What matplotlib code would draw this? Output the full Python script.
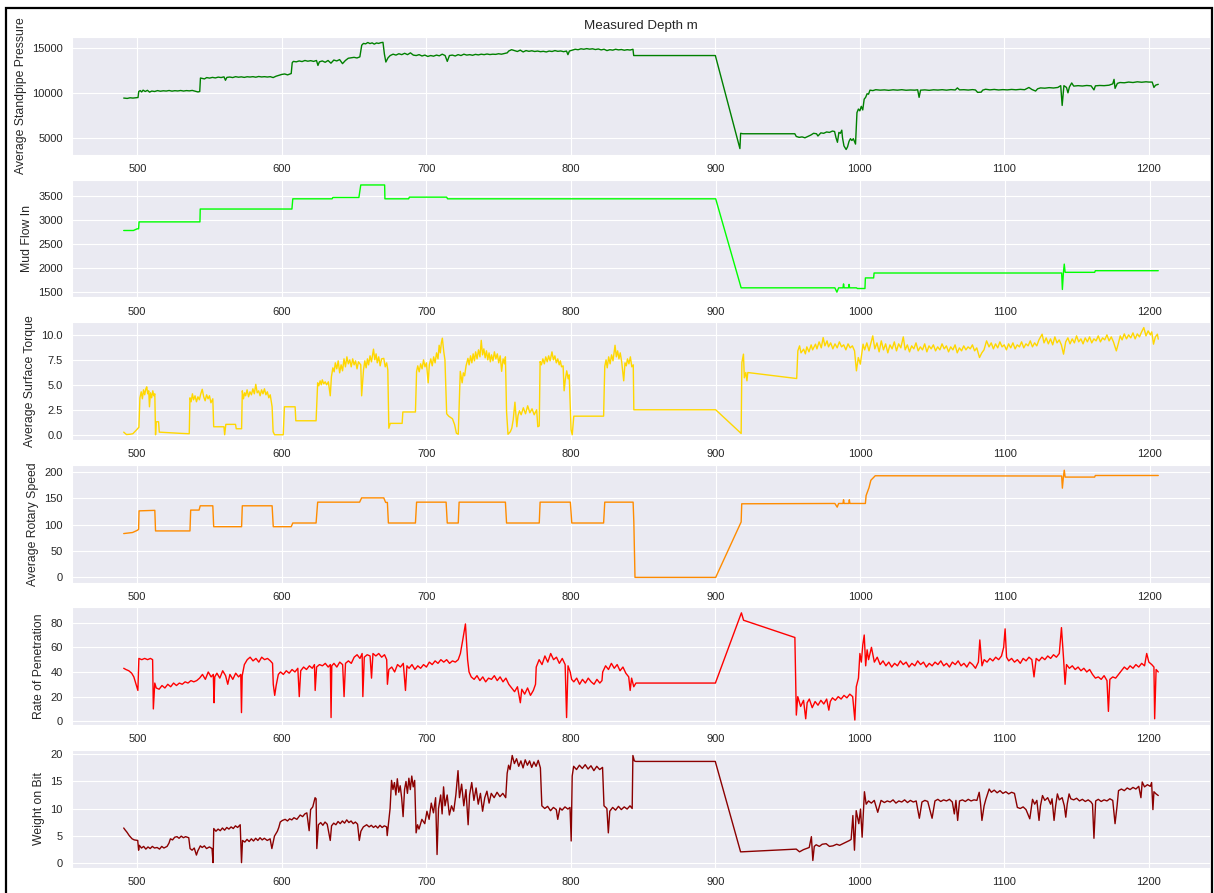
import matplotlib
matplotlib.use("Agg")
import matplotlib.pyplot as plt
import seaborn as sns
from matplotlib.patches import Rectangle

# (measured depth m, value) pairs
spp_pts = [
    (490.6, 9420), (493, 9380), (495, 9450), (497, 9420), (500.5, 9480),
    (501, 10150), (502, 10250), (503, 10100), (504, 10300), (505.5, 10150), (507, 10280), (508.5, 10080),
    (510, 10200), (512, 10150), (514, 10250), (516, 10180), (518, 10230), (520, 10200), (522, 10260),
    (524, 10190), (526, 10240), (528, 10210), (530, 10260), (532, 10200), (534, 10250), (536, 10220),
    (538, 10270), (540, 10180), (542, 10100), (543.2, 10150),
    (543.7, 11650), (545, 11600), (546.5, 11550), (548, 11700), (550, 11640), (552, 11720), (554, 11660),
    (556, 11750), (558, 11700), (560, 11780), (561, 11400), (562, 11720), (564, 11760), (566, 11700),
    (568, 11800), (570, 11740), (572, 11780), (574, 11720), (576, 11790), (578, 11760), (580, 11800),
    (582, 11740), (584, 11820), (586, 11770), (588, 11800), (590, 11760), (592, 11800), (594, 11700),
    (596, 11850), (598, 11950), (600, 12050), (602, 12100), (604, 12000), (606.5, 12150),
    (607.2, 13350), (608, 13500), (610, 13450), (612, 13550), (614, 13480), (616, 13600), (618, 13520),
    (620, 13580), (622, 13500), (624, 13600), (625, 13050), (626, 13450), (628, 13550), (630, 13400),
    (632, 13600), (634, 13300), (636, 13650), (638, 13550), (640, 13700), (642, 13250), (644, 13600),
    (646, 13850), (648, 13900), (650, 13950), (652, 13880), (654, 14000),
    (655.3, 15300), (656.5, 15500), (658, 15450), (659.5, 15600), (661, 15480), (662.5, 15560),
    (664, 15420), (665.5, 15550), (667, 15500), (668.5, 15580), (670, 15620),
    (671, 14300), (672, 13430), (673.5, 13900), (675, 14150), (677, 14300), (679, 14200), (681, 14350),
    (683, 14250), (685, 14400), (687, 14250), (689, 14450), (691, 14200), (693, 14150), (695, 14250),
    (697, 14100), (699, 14200), (701, 14050), (703, 14150), (705, 14080), (707, 14200), (709, 14120),
    (711, 14300), (713, 14150), (714.5, 13500), (716, 14150), (718, 14200), (720, 14100), (722, 14250),
    (724, 14150), (726, 14300), (728, 14200), (730, 14250), (732, 14180), (734, 14280), (736, 14220),
    (738, 14300), (740, 14250), (742, 14320), (744, 14260), (746, 14300), (748, 14280), (750, 14350),
    (752, 14300), (754, 14380), (756, 14450),
    (757, 14650), (759, 14800), (761, 14700), (763, 14600), (765, 14750), (767, 14550), (769, 14700),
    (771, 14620), (773, 14680), (775, 14600), (777, 14650), (779, 14580), (781, 14620), (783, 14550),
    (785, 14650), (787, 14600), (789, 14700), (791, 14620), (793, 14660), (795, 14580), (797, 14650),
    (798, 14250), (799, 14650), (801, 14750), (803, 14850), (805, 14800), (807, 14900), (809, 14850),
    (811, 14920), (813, 14860), (815, 14900), (817, 14820), (819, 14880), (821, 14780), (823, 14850),
    (825, 14700), (827, 14800), (829, 14750), (831, 14850), (833, 14780), (835, 14820), (837, 14740),
    (839, 14800), (841, 14760), (843, 14850),
    (843.5, 14150), (900, 14150), (917, 3800), (917.5, 5500), (919, 5450), (955, 5450),
    (956, 5150), (958, 5050), (960, 5100), (962, 5000), (964, 5150), (966, 5300), (968, 5500),
    (970, 5450), (971, 5200), (973, 5550), (975, 5500), (977, 5650), (979, 5600), (981, 5750),
    (982.5, 5700), (983.5, 5000), (984.5, 4500), (985.5, 5600), (986.5, 5500), (987.5, 5850),
    (988, 5000), (989, 4100), (990.5, 3700), (991.5, 4000), (992.5, 4600), (993.5, 4900), (994.5, 4700),
    (995.5, 4900), (996.5, 4500), (997, 4300),
    (998, 7800), (999, 8200), (1000, 8000), (1001, 8500), (1002, 8100), (1003, 9300), (1004, 9500),
    (1005, 9900), (1006, 9850), (1007, 10300), (1009, 10250), (1011, 10350), (1014, 10300),
    (1017, 10330), (1020, 10280), (1023, 10340), (1026, 10300), (1029, 10350), (1032, 10290),
    (1035, 10320), (1038, 10300), (1040, 10340), (1041, 9500), (1042, 10300), (1045, 10330),
    (1048, 10280), (1051, 10340), (1054, 10310), (1057, 10350), (1060, 10300), (1063, 10360),
    (1066, 10320), (1067.5, 10550), (1069, 10330), (1072, 10350), (1075, 10310), (1078, 10360),
    (1080, 10320), (1081.5, 10050), (1084, 10080), (1085, 10300), (1087, 10400), (1090, 10330),
    (1093, 10380), (1096, 10320), (1099, 10360), (1102, 10330), (1105, 10380), (1108, 10340),
    (1111, 10390), (1114, 10350), (1117, 10600), (1119, 10380), (1121.6, 10200), (1123, 10450),
    (1125, 10550), (1128, 10520), (1131, 10580), (1134, 10540), (1137, 10600), (1139, 10800),
    (1140, 8600), (1141.2, 10800), (1143, 10600), (1144, 10000), (1145, 10650), (1146.6, 11100),
    (1148, 10750), (1151, 10800), (1154, 10760), (1157, 10820), (1160, 10780), (1162, 10330),
    (1163, 10780), (1166, 10820), (1169, 10800), (1172.4, 10850), (1175, 11000), (1175.9, 11500),
    (1176.6, 10500), (1178.2, 11050), (1180, 11150), (1183, 11120), (1186, 11200), (1189, 11150),
    (1192, 11230), (1195, 11180), (1198, 11230), (1200, 11200), (1202.3, 11200), (1203.5, 10600),
    (1204.6, 10850), (1206.5, 10950),
]

flow_pts = [
    (490.7, 2780), (497.4, 2780), (500, 2815), (501, 2815), (501.3, 2959), (543.4, 2959),
    (543.6, 3226), (607, 3226), (607.6, 3438), (634.8, 3438), (635.3, 3466), (653.3, 3466),
    (654.6, 3726), (671.1, 3726), (671.3, 3438), (687.7, 3438), (688.2, 3473), (714, 3473),
    (714.6, 3438), (900, 3438), (917.6, 1589), (982.4, 1589), (983.8, 1500), (985, 1589),
    (988, 1589), (988.4, 1671), (988.8, 1589), (991.8, 1589), (992.2, 1660), (992.6, 1589),
    (997.3, 1589), (998, 1575), (1003.2, 1575), (1003.5, 1795), (1009.2, 1795), (1009.5, 1897),
    (1139.2, 1897), (1139.7, 1555), (1140.4, 1900), (1141, 2082), (1141.6, 1911), (1162, 1911),
    (1162.5, 1945), (1206, 1945),
]

torque_pts = [
    (490.7, 0.26), (492.6, 0.02), (495, 0.05), (497, 0.1), (499, 0.4), (501.2, 0.75),
    (501.9, 3.7), (502.8, 4.3), (503.6, 3.6), (504.4, 4.5), (505.2, 4.0), (506, 4.6), (506.6, 4.8),
    (507.3, 4.1), (508, 4.4), (508.5, 2.8), (509.2, 4.2), (510, 3.7), (510.8, 4.4), (511.5, 3.9), (512.2, 4.1),
    (512.7, 0.0), (513.2, 1.3), (514.8, 1.3), (515.3, 0.26), (520, 0.22), (525, 0.18), (530, 0.14), (536, 0.1),
    (536.5, 3.7), (537.3, 3.3), (538.2, 4.1), (539, 3.5), (540, 3.9), (541, 3.3), (542, 3.8), (543, 3.5),
    (544, 4.1), (545, 4.55), (546, 3.8), (547, 3.4), (548, 4.0), (549, 3.6), (550, 3.9), (551, 3.2), (552.3, 3.6),
    (552.9, 0.8), (560, 0.8), (560.5, 0.0), (561.3, 1.04), (568, 1.04), (568.5, 0.6), (572.2, 0.6),
    (572.7, 4.4), (573.5, 3.6), (574.3, 4.2), (575, 3.9), (576, 4.5), (577, 3.8), (578, 4.3), (579, 4.0),
    (580, 4.6), (581, 4.1), (582, 5.05), (583, 4.2), (584, 4.4), (585, 3.9), (586, 4.5), (587, 4.1),
    (588, 4.6), (589, 4.0), (590, 4.3), (591, 3.7), (592, 4.0), (593.3, 2.8), (594, 0.3), (595, 0.0), (601, 0.0),
    (601.8, 2.8), (609.2, 2.8), (609.7, 1.4), (623.7, 1.4),
    (624.8, 5.2), (625.6, 4.9), (626.5, 5.4), (627.3, 5.0), (628, 5.5), (629, 5.1), (630, 5.3), (631, 5.0),
    (632.2, 5.3), (633.5, 3.9), (634.3, 5.8), (635.3, 6.7), (636.2, 6.3), (637, 7.2), (638, 6.6), (639, 7.4),
    (640, 6.2), (641, 7.0), (642, 6.4), (643, 7.6), (644, 6.8), (645, 7.8), (646, 7.1), (647, 7.5), (648, 6.8),
    (649, 7.6), (650, 7.0), (651, 7.4), (652, 6.6), (653, 7.3), (654.6, 7.0),
    (655.2, 3.9), (656.5, 6.5), (657.4, 7.4), (658.3, 6.7), (659.2, 7.6), (660, 7.0), (661, 7.9), (662, 7.3),
    (663.4, 8.57), (664.3, 7.5), (665.2, 8.1), (666, 7.2), (667, 7.8), (668, 6.9), (669, 7.6), (670.5, 7.65),
    (671.5, 6.8), (672.5, 7.2), (673.3, 6.5),
    (674, 0.65), (675, 1.14), (683.2, 1.14), (683.7, 2.28), (692.4, 2.28),
    (693.2, 6.35), (694, 6.9), (695, 6.3), (696, 7.1), (697, 6.6), (698, 7.5), (699, 6.8), (700, 7.2),
    (701.2, 5.2), (702, 7.0), (703, 7.6), (704, 6.9), (705, 7.8), (706, 7.2), (707, 8.2), (708, 7.6),
    (708.8, 8.96), (709.6, 8.2), (710.3, 9.2), (711, 9.67), (712, 8.3), (712.8, 7.5), (714, 2.1),
    (715.4, 1.86), (718, 1.6), (719.5, 1.0), (720.7, 0.16), (722, 0.05),
    (723.4, 6.35), (724.7, 5.2), (725.5, 6.2), (726.4, 5.9), (727.4, 6.9), (728.7, 7.65), (729.5, 7.0),
    (730.5, 7.9), (731.4, 7.2), (732.3, 8.1), (733.2, 7.4), (734, 8.3), (735, 7.6), (736, 8.5), (737, 7.8),
    (737.9, 9.45), (738.8, 8.0), (739.7, 8.6), (740.6, 7.7), (741.5, 8.4), (742.4, 7.5), (743.3, 8.2),
    (744.2, 7.3), (745, 8.0), (746, 7.4), (747, 8.3), (748, 7.6), (749, 8.1), (750, 7.2), (751, 7.9),
    (752, 6.35), (753, 7.6), (754, 7.1), (754.6, 7.8),
    (755.4, 2.3), (756.4, 0.05), (758, 0.3), (759, 0.65), (760, 1.5), (761.2, 3.26), (762.5, 0.8),
    (763.3, 1.9), (764.3, 2.4), (765.5, 2.0), (767, 2.7), (768.5, 2.1), (770, 2.9), (771.5, 2.2),
    (773, 2.6), (774.5, 2.0), (776.2, 2.5), (777, 0.8), (778, 0.88),
    (778.6, 7.33), (779.5, 7.0), (780.5, 7.6), (781.5, 7.1), (782.5, 7.8), (783.5, 7.3), (784.5, 7.9),
    (785.5, 7.4), (786.8, 8.3), (787.8, 7.5), (788.8, 7.9), (789.8, 7.2), (790.8, 7.6), (791.8, 7.0),
    (792.6, 7.4), (793.4, 6.8), (794.5, 6.9), (795.2, 4.4), (796, 5.5), (797, 6.4), (798, 5.6),
    (798.7, 6.0), (800, 0.5), (800.8, 0.0),
    (801.9, 1.86), (822.5, 1.86),
    (823.3, 6.84), (824.2, 7.5), (825, 6.7), (826, 7.8), (827, 7.1), (828, 8.0), (829, 7.4), (830.4, 8.96),
    (831.3, 7.8), (832.2, 8.4), (833.1, 7.6), (834, 8.2), (835, 7.3), (836.4, 5.4), (837.3, 7.2),
    (838.2, 6.9), (839, 7.6), (840, 7.1), (841, 7.8), (842, 6.8), (843, 7.0),
    (843.4, 2.5), (900, 2.5), (917.6, 0.13),
    (918.1, 7.23), (919.2, 8.07), (919.8, 5.7), (920.8, 6.23), (921.6, 5.4), (922.2, 6.23), (956, 5.63),
    (956.8, 8.4), (958, 8.9), (959, 8.2), (960.8, 8.57), (962, 8.1), (963, 8.8), (964.5, 8.3), (966, 9.0),
    (967, 8.5), (969, 9.07), (970, 8.6), (971.5, 9.3), (973, 8.7), (974.3, 9.73), (975.5, 8.9), (977, 9.4),
    (978, 8.8), (979.5, 9.2), (981, 8.6), (982.5, 9.1), (984, 8.7), (985.5, 9.3), (987, 8.8), (988.5, 9.0),
    (990, 8.5), (991.5, 9.1), (993, 8.7), (994.5, 8.9), (996, 8.4), (997.3, 6.4), (998.6, 7.73),
    (1000, 7.07), (1001.9, 9.07), (1003, 8.5), (1004.5, 9.2), (1006, 8.4), (1007, 9.0), (1008.6, 9.9),
    (1010, 8.6), (1011.5, 9.2), (1013, 8.3), (1014.5, 9.4), (1016, 8.5), (1017.5, 9.1), (1019, 8.2),
    (1020.5, 9.0), (1022, 8.6), (1023.5, 9.3), (1025, 8.4), (1026.5, 9.1), (1028, 8.7), (1029.7, 9.8),
    (1031, 8.5), (1032.5, 9.0), (1034, 8.3), (1035.5, 8.9), (1037, 8.6), (1038.5, 9.2), (1040, 8.4),
    (1041.5, 8.8), (1043, 8.5), (1044.5, 9.1), (1046, 8.3), (1047.5, 8.9), (1049, 8.6), (1050.5, 9.0),
    (1052, 8.4), (1053.5, 8.8), (1055, 8.5), (1056.5, 9.1), (1058, 8.6), (1059.5, 8.9), (1061, 8.3),
    (1062.5, 8.8), (1064, 8.5), (1065.5, 9.0), (1067, 8.2), (1068.5, 8.7), (1070, 8.4), (1071.5, 8.9),
    (1073, 8.5), (1074.5, 8.8), (1076, 8.6), (1077.5, 9.0), (1079, 8.4), (1080.5, 8.7), (1082.4, 7.73),
    (1084, 8.2), (1085.5, 8.5), (1087.3, 9.4), (1089, 8.8), (1090.5, 9.2), (1092, 8.6), (1093.5, 9.1),
    (1095, 8.7), (1096.5, 9.3), (1098, 8.8), (1099.5, 9.0), (1101, 8.5), (1102.5, 9.1), (1104, 8.7),
    (1105.5, 9.2), (1107, 8.6), (1108.5, 9.0), (1110, 8.8), (1111.5, 9.3), (1113, 8.7), (1114.5, 9.1),
    (1116, 8.9), (1117.5, 9.4), (1119, 8.8), (1120.5, 9.2), (1122, 8.9), (1123.5, 9.5), (1125.7, 10.07),
    (1127, 9.2), (1128.5, 9.7), (1130, 9.1), (1131.5, 9.6), (1133, 9.0), (1134.5, 9.8), (1136, 9.2),
    (1137.5, 9.5), (1139, 9.0), (1140.5, 8.07), (1142, 9.3), (1143.5, 9.7), (1145, 9.1), (1146.5, 9.6),
    (1148, 9.2), (1149.5, 9.9), (1151, 9.3), (1152.5, 9.6), (1154, 9.1), (1155.5, 9.7), (1157, 9.3),
    (1158.5, 9.8), (1160, 9.2), (1161.5, 9.6), (1163, 9.4), (1164.5, 9.9), (1166, 9.3), (1167.5, 9.7),
    (1169, 9.5), (1170.5, 10.0), (1172, 9.4), (1173.5, 9.8), (1175, 9.3), (1177, 8.4), (1178.5, 9.2),
    (1179.7, 9.9), (1181, 9.5), (1182.5, 10.1), (1184, 9.6), (1185.5, 10.0), (1187, 9.7), (1188.5, 10.2),
    (1190, 9.6), (1191.5, 10.1), (1193, 9.8), (1194.5, 10.3), (1196, 10.73), (1197.5, 9.9), (1199, 10.4),
    (1200.5, 10.0), (1201.5, 10.3), (1202.7, 9.07), (1204, 9.8), (1205.4, 10.07), (1206, 9.57),
]

rpm_pts = [
    (490.7, 83), (496.8, 85), (500, 89), (501, 91), (501.3, 126), (512.2, 127),
    (512.7, 88), (536.5, 88), (537, 127.5), (542.8, 127.5), (543.6, 135.6), (552.3, 135.6),
    (552.9, 96), (572.2, 96), (572.7, 135.6), (593.3, 135.6), (594.1, 96), (606.5, 96),
    (607.6, 103), (623.7, 103), (624.8, 142.5), (653.8, 142.5), (655.2, 150.6), (670.5, 150.6),
    (671.8, 142), (673, 142), (673.7, 103), (692.4, 103), (693.2, 142.5), (713.6, 142.5),
    (714.4, 103), (722, 103), (722.6, 142.5), (754.6, 142.5), (755.4, 103), (778, 103),
    (778.6, 142.5), (799.5, 142.5), (800.5, 103), (822.5, 103), (823.3, 142.5), (842.9, 142.5),
    (843.4, 105), (844.2, 0), (900, 0), (917.6, 105), (918, 139.4), (982.4, 140), (984, 133),
    (985, 140), (988, 140), (988.4, 147), (988.8, 140), (992, 140), (992.4, 147), (992.8, 140),
    (1003.5, 140), (1004, 155), (1006, 170), (1007.3, 184), (1010.3, 192.5), (1139.2, 192),
    (1139.7, 169), (1140.4, 190), (1141, 203), (1141.6, 190), (1162, 190), (1162.5, 193),
    (1206, 193),
]

rop_pts = [
    (490.5, 43), (492, 42), (494, 41), (496, 39), (497.5, 36), (499, 30), (500.3, 25),
    (501, 51), (503, 50), (505, 51), (507, 50), (509, 51), (510.5, 50), (511, 10), (512, 31), (513, 27),
    (515, 26), (517, 29), (519, 27), (521, 30), (523, 28), (525, 31), (527, 29), (529, 31), (531, 30),
    (533, 32), (535, 31), (537, 33), (539, 32), (541, 33), (543, 35), (545, 38), (547, 34), (549, 40),
    (551, 36), (552.5, 38), (553, 15), (553.5, 36), (555, 39), (557, 35), (559, 41), (561, 37),
    (562.5, 30), (564, 38), (566, 34), (568, 39), (570, 36), (571.5, 38), (572, 7), (572.5, 37),
    (574, 46), (576, 50), (578, 52), (580, 49), (582, 51), (584, 48), (586, 52), (588, 50), (590, 51),
    (592, 49), (593.5, 47), (594, 30), (595, 21), (596, 29), (597.5, 38), (599, 40), (601, 38),
    (603, 41), (605, 39), (607, 42), (609, 40), (611, 43), (612, 20), (613, 41), (615, 44), (617, 42),
    (619, 45), (621, 43), (622.5, 46), (623, 25), (624, 44), (626, 46), (628, 45), (630, 47), (632, 44),
    (633.5, 46), (634, 3), (634.5, 45), (636, 47), (638, 44), (640, 48), (642, 46), (643, 20), (644, 47),
    (646, 49), (648, 47), (650, 52), (652, 54), (654, 51), (655.5, 55), (656, 20), (657, 52), (659, 54),
    (661, 53), (662, 35), (663, 55), (665, 53), (667, 55), (669, 52), (671, 54), (672.5, 50), (673, 30),
    (674, 42), (676, 44), (678, 40), (680, 46), (682, 44), (684, 47), (685.5, 25), (686.5, 45),
    (688, 43), (690, 46), (692, 42), (694, 45), (696, 43), (698, 46), (700, 44), (702, 48), (704, 46),
    (706, 49), (708, 47), (710, 50), (712, 48), (714, 50), (716, 47), (718, 49), (720, 48), (722, 50),
    (723.5, 55), (725, 65), (727, 79), (728.5, 50), (729.5, 40), (731, 36), (733, 34), (735, 37),
    (737, 33), (739, 36), (741, 32), (743, 35), (745, 34), (747, 37), (749, 33), (751, 36), (753, 32),
    (755, 35), (757, 30), (759, 27), (761, 24), (763, 28), (765, 15), (766, 26), (768, 22), (770, 27),
    (772, 21), (774, 25), (775.5, 30), (776, 44), (778, 50), (780, 46), (782, 53), (784, 48), (786, 55),
    (788, 50), (790, 52), (792, 47), (794, 51), (796, 46), (797, 3), (798, 45), (799.5, 40),
    (800.5, 34), (802, 32), (804, 35), (806, 30), (808, 34), (810, 31), (812, 35), (814, 32), (816, 30),
    (818, 34), (820, 31), (821.5, 33), (822, 40), (824, 45), (826, 42), (828, 47), (830, 43), (832, 46),
    (834, 41), (836, 44), (838, 39), (840, 36), (841, 25), (842, 35), (843.5, 28), (845, 31), (900, 31),
    (918, 88), (919.5, 82), (955, 68), (956, 5), (957, 20), (959, 12), (961, 17), (962.5, 2),
    (963.5, 15), (965, 18), (967, 11), (969, 16), (971, 13), (973, 17), (975, 14), (977, 18),
    (978.5, 9), (979.5, 16), (981, 19), (983, 17), (985, 20), (987, 18), (989, 21), (991, 19),
    (993, 22), (995, 20), (996.5, 1), (997.5, 28), (999, 35), (1000, 55), (1001, 48), (1002, 62),
    (1003, 70), (1004, 45), (1005, 58), (1006, 50), (1008, 60), (1010, 48), (1012, 52), (1014, 46),
    (1016, 49), (1018, 45), (1020, 48), (1022, 44), (1024, 47), (1026, 45), (1028, 49), (1030, 46),
    (1032, 48), (1034, 44), (1036, 47), (1038, 45), (1040, 49), (1042, 46), (1044, 48), (1046, 44),
    (1048, 47), (1050, 45), (1052, 48), (1054, 46), (1056, 49), (1058, 45), (1060, 47), (1062, 44),
    (1064, 48), (1066, 46), (1068, 49), (1070, 45), (1072, 47), (1074, 44), (1076, 48), (1078, 46),
    (1080, 43), (1082, 48), (1083, 66), (1084.5, 45), (1086, 50), (1088, 48), (1090, 51), (1092, 49),
    (1094, 52), (1096, 50), (1098, 53), (1099.5, 60), (1100.5, 75), (1101.5, 52), (1103, 49),
    (1105, 51), (1107, 48), (1109, 50), (1111, 47), (1113, 51), (1115, 49), (1117, 52), (1119, 50),
    (1120.5, 36), (1122, 51), (1124, 49), (1126, 52), (1128, 50), (1130, 53), (1132, 51), (1134, 54),
    (1136, 52), (1138, 55), (1139.5, 76), (1141, 50), (1142, 30), (1143, 46), (1145, 43), (1147, 45),
    (1149, 42), (1151, 44), (1153, 41), (1155, 43), (1157, 40), (1159, 42), (1161, 38), (1163, 35),
    (1165, 36), (1167, 34), (1169, 37), (1171, 33), (1172, 8), (1173, 34), (1175, 36), (1177, 35),
    (1179, 38), (1181, 41), (1183, 44), (1185, 42), (1187, 45), (1189, 43), (1191, 46), (1193, 44),
    (1195, 47), (1197, 45), (1198.5, 55), (1200, 48), (1202, 46), (1203.5, 44), (1204, 2), (1205, 42),
    (1206.5, 40),
]

wob_pts = [
    (490.7, 6.4), (491.5, 6.1), (493, 5.6), (494.5, 5.0), (496.5, 4.4), (498, 4.2), (500.4, 4.1),
    (501, 2.3), (501.5, 3.2), (503, 2.7), (504.5, 3.0), (506, 2.5), (507.5, 2.9), (509, 2.6), (510.5, 3.0),
    (512, 2.7), (513.8, 2.8), (515.5, 2.5), (517, 3.0), (518.5, 2.7), (520.7, 3.0), (522, 3.6), (523, 4.4),
    (524.5, 4.2), (526, 4.7), (527.6, 4.8), (529, 4.5), (530.5, 4.9), (532, 4.6), (533.5, 4.8), (535.7, 4.6),
    (536.6, 2.6), (538, 2.3), (539.5, 2.7), (541, 1.4), (542, 2.2), (542.6, 2.5), (543.7, 3.1), (545, 2.8),
    (546.5, 3.1), (548, 2.6), (550, 2.9), (551.8, 2.6), (552.5, 0.0), (553, 6.3), (554.5, 5.8), (556, 6.2),
    (557.5, 5.9), (559, 6.4), (560.5, 6.0), (562, 6.5), (563.5, 6.2), (565, 6.6), (566.5, 6.3), (568, 6.8),
    (569.5, 6.5), (571.3, 7.0), (572.2, 0.0), (572.9, 4.1), (574.5, 3.8), (576, 4.3), (577.5, 3.9),
    (579, 4.4), (580.5, 4.0), (582, 4.5), (583.5, 4.1), (585, 4.6), (586.5, 4.2), (588, 4.5), (590, 4.1),
    (592, 4.4), (593.2, 2.6), (595, 4.9), (597, 5.8), (598, 6.5), (599, 7.5), (600.5, 7.8), (602.4, 8.0),
    (604, 7.7), (605.5, 8.1), (607, 7.9), (608.5, 8.3), (610.5, 8.0), (612.8, 8.8), (614.5, 8.5),
    (616, 9.0), (617.4, 9.2), (619, 5.9), (620, 9.8), (621.5, 10.3), (623.1, 12.0), (623.8, 11.8),
    (624.3, 2.6), (625.4, 7.0), (627, 7.4), (628.5, 6.9), (630, 7.5), (631.5, 7.1), (633.6, 4.1),
    (634.5, 6.8), (636, 7.3), (637.5, 7.0), (639, 7.6), (640.5, 7.2), (642, 7.7), (643.5, 7.3), (645, 7.9),
    (646.5, 7.4), (648, 7.7), (649.5, 7.2), (651, 7.5), (652.5, 7.1), (653.7, 4.1), (654.8, 5.8),
    (656.5, 6.6), (658.8, 7.0), (660.5, 6.6), (662, 6.9), (663.5, 6.5), (665, 6.8), (666.5, 6.4),
    (668, 6.9), (669.5, 6.5), (671, 6.8), (672.6, 6.6), (673, 5.0), (675, 10.0), (676, 15.2), (677, 13.5),
    (678, 14.8), (679, 12.5), (680, 15.5), (681, 13.0), (682, 14.2), (683, 12.0), (684, 8.5), (685, 13.5),
    (686, 15.0), (687, 12.8), (688, 15.6), (689, 13.5), (690, 16.0), (691, 14.0), (692, 15.2), (693, 5.5),
    (694, 7.0), (695, 6.2), (697, 8.0), (699, 7.2), (700.5, 9.5), (702, 8.0), (703.5, 11.0), (705, 9.2),
    (706.5, 12.0), (707.5, 1.5), (708.5, 10.0), (710, 12.5), (711, 9.0), (712, 14.0), (713, 10.5),
    (714.5, 12.5), (716, 8.8), (717.5, 10.5), (719, 9.5), (720.5, 12.5), (722, 17.0), (723, 12.0),
    (724.5, 14.5), (726, 10.5), (727.5, 13.5), (729, 7.0), (730, 12.5), (731.5, 14.8), (733, 11.5),
    (734.5, 13.8), (736, 10.8), (737.5, 12.8), (739, 9.5), (740.5, 12.0), (742, 13.2), (743.5, 11.0),
    (745, 12.8), (747, 12.0), (749, 13.0), (751, 12.2), (753, 12.8), (755, 12.0), (756, 16.5), (757, 18.0),
    (758, 17.2), (759.5, 19.8), (761, 18.3), (762.5, 19.2), (764, 17.8), (765.5, 18.8), (767, 17.5),
    (768.5, 19.0), (770, 18.0), (771.5, 18.8), (773, 17.6), (774.5, 18.6), (776, 17.8), (777.5, 18.9),
    (779, 17.5), (780, 10.5), (782, 10.0), (784, 10.4), (786, 9.6), (788, 10.2), (790, 9.8), (791, 8.0),
    (792.5, 10.1), (794, 9.7), (796, 10.3), (798, 9.9), (799.5, 10.2), (800.3, 4.0), (801, 16.0),
    (802, 17.8), (804, 17.2), (806, 18.0), (808, 17.4), (810, 18.1), (812, 17.3), (814, 17.9), (816, 17.0),
    (818, 17.8), (820, 17.2), (822, 17.6), (823, 10.5), (825, 10.0), (826, 5.5), (827, 9.5), (829, 10.2),
    (831, 9.7), (833, 10.4), (835, 9.8), (837, 10.3), (839, 9.9), (841, 10.5), (842.5, 10.0), (843, 19.8),
    (844, 18.8), (845, 18.7), (900, 18.7), (917.5, 2.0), (918.5, 2.0), (956, 2.5), (958.3, 2.0),
    (961, 2.4), (963, 2.6), (965, 2.8), (966.5, 4.8), (967.5, 0.4), (968.5, 3.0), (969.8, 3.3), (972, 3.0),
    (974, 3.4), (976.7, 3.5), (979, 3.0), (981.4, 3.1), (984, 3.4), (986, 3.2), (989, 3.6), (992.9, 4.1),
    (994, 4.3), (995.2, 8.7), (996.3, 2.3), (997.5, 9.6), (999.3, 7.2), (1000.5, 9.9), (1001.6, 4.7),
    (1003.2, 13.1), (1004.4, 10.8), (1006, 11.4), (1008, 11.0), (1010, 11.5), (1012.4, 9.3),
    (1014.7, 11.5), (1017, 11.1), (1019, 11.4), (1021, 11.2), (1023, 11.6), (1025, 11.0), (1027, 11.4),
    (1029, 11.2), (1031, 11.6), (1033, 11.1), (1035, 11.5), (1037, 11.2), (1039, 11.4), (1041.2, 8.2),
    (1043, 11.2), (1045, 11.5), (1047, 11.3), (1050, 8.2), (1052, 11.4), (1054, 11.7), (1056, 11.3),
    (1058, 11.6), (1060, 11.4), (1062, 11.7), (1064, 11.2), (1065.4, 9.0), (1066.5, 11.5), (1067.7, 7.8),
    (1069, 11.4), (1071, 11.6), (1073, 11.3), (1075, 11.7), (1077, 11.4), (1079, 11.6), (1081, 11.5),
    (1082.6, 13.0), (1083.5, 11.0), (1084.5, 7.8), (1086, 10.5), (1087.2, 11.7), (1089.5, 13.6),
    (1091, 13.0), (1093, 13.4), (1095, 12.9), (1097, 13.3), (1099, 12.8), (1101, 13.1), (1103, 12.7),
    (1105, 13.0), (1107, 12.8), (1109, 10.2), (1111, 10.0), (1113, 10.3), (1115, 9.8), (1117.6, 8.1),
    (1119.5, 11.7), (1121, 10.8), (1122.5, 11.5), (1124, 7.8), (1125, 10.5), (1126.4, 12.4), (1128, 11.5),
    (1130, 12.0), (1132, 10.8), (1133, 11.8), (1134.4, 7.8), (1135.5, 10.5), (1136.7, 12.7), (1138, 11.6),
    (1140, 12.0), (1141.5, 10.5), (1142.5, 8.4), (1143.5, 10.8), (1144.8, 12.7), (1146, 11.8),
    (1148, 11.6), (1150, 11.9), (1152, 11.4), (1154, 11.7), (1156, 11.3), (1158, 11.6), (1160, 11.2),
    (1161, 10.8), (1162, 4.5), (1163.2, 11.4), (1165, 11.7), (1167, 11.3), (1169, 11.6), (1171, 11.4),
    (1173, 11.8), (1175, 11.5), (1176.6, 7.2), (1178, 10.5), (1179, 13.3), (1181, 13.6), (1183, 13.3),
    (1185, 13.8), (1187, 13.5), (1189, 13.9), (1191, 13.6), (1193, 14.1), (1194.5, 12.0), (1195.4, 14.9),
    (1197, 14.0), (1199, 14.4), (1201, 14.1), (1201.9, 14.8), (1202.8, 9.8), (1203.5, 13.1), (1205, 12.7),
    (1206.5, 12.4),
]

panels = [
    ("Average Standpipe Pressure", spp_pts, "green"),
    ("Mud Flow In", flow_pts, "lime"),
    ("Average Surface Torque", torque_pts, "gold"),
    ("Average Rotary Speed", rpm_pts, "darkorange"),
    ("Rate of Penetration", rop_pts, "red"),
    ("Weight on Bit", wob_pts, "darkred"),
]

sns.set_style("darkgrid")
plt.rcParams['font.family'] = ['Liberation Sans', 'DejaVu Sans']

fig, axes = plt.subplots(6, 1, figsize=(12.14, 8.93), dpi=100)
fig.subplots_adjust(left=0.0593, right=0.9967, top=0.9586, bottom=0.028, hspace=0.21)

for ax, (label, pts, color) in zip(axes, panels):
    depth, vals = zip(*pts)
    ax.plot(depth, vals, color=color, linewidth=1.0)
    ax.set_ylabel(label, fontsize=8.8)
    ax.tick_params(labelsize=8, pad=3)

axes[0].set_title("Measured Depth m", fontsize=9.6)

# black frame around the figure, bottom edge falls off the canvas
fig.patches.append(Rectangle((5.5 / 1214, -0.05), (1212 - 5.5) / 1214, 1.05 - 8.5 / 893,
                             transform=fig.transFigure, fill=False, edgecolor="black",
                             linewidth=1.6, clip_on=False))

fig.savefig("out.png", dpi=100)
